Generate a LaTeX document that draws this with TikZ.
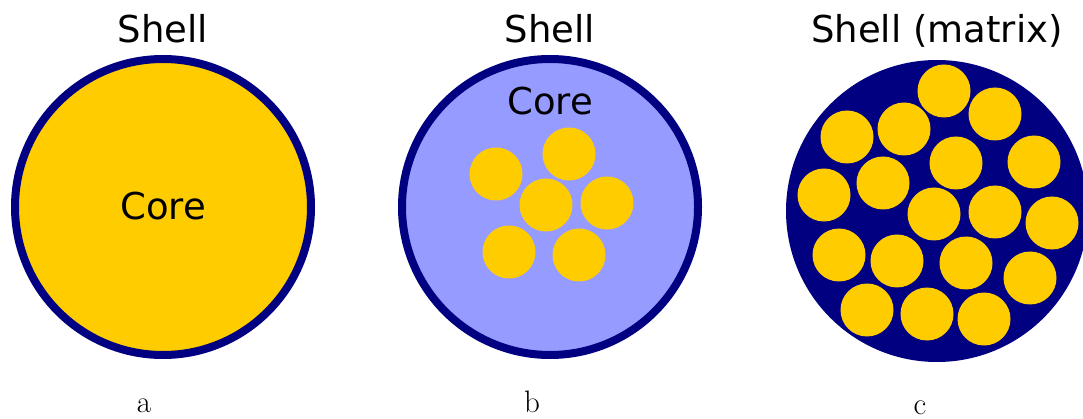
\documentclass[tikz,border=0pt]{standalone}
\usepackage{fontspec}
\newfontfamily\labfont{DejaVu Sans}
\definecolor{navy}{RGB}{0,0,128}
\definecolor{gold}{RGB}{255,204,0}
\definecolor{lblue}{RGB}{150,155,255}
\begin{document}
\begin{tikzpicture}[x=1pt,y=-1pt,
  sanslab/.style={font=\labfont\fontsize{37}{40}\selectfont, inner sep=0pt, anchor=base, text=black},
  seriflab/.style={font=\fontsize{31}{34}\selectfont, inner sep=0pt, anchor=base, text=black},
  shellring/.style={draw=navy, line width=8pt},
  grain/.style={fill=gold}]
\useasboundingbox (0,0) rectangle (1083,419);
\clip (0,0) rectangle (1083,419);
% (a)
\filldraw[shellring, fill=gold] (163,207) circle (148);
\node[sanslab] (sa) at (163,43) {Shell};
\node[sanslab] (ca) at (163,220) {Core};
\node[seriflab] (la) at (144,412) {a};
% (b)
\filldraw[shellring, fill=lblue] (550,207) circle (148);
\node[sanslab] (sb) at (550,43) {Shell};
\node[sanslab] (cb) at (550,115) {Core};
\foreach \p in {(496,174),(569,154),(546,205),(607,203),(509,252),(579,255)}
  \fill[grain] \p circle (26.5);
\node[seriflab] (lb) at (532,412) {b};
% (c)
\fill[navy] (937,211) circle (151);
\foreach \p in {(944,91),(995,114),(847,137),(904,129),(956,163),(1034,162),
  (824,195),(883,183),(934,214),(995,212),(1052,223),
  (839,255),(897,261),(966,263),(1030,278),
  (867,310),(927,314),(984,319)}
  \fill[grain] \p circle (26.5);
\node[sanslab] (sc) at (937,43) {Shell (matrix)};
\node[seriflab] (lc) at (920,414) {c};
\end{tikzpicture}
\end{document}
